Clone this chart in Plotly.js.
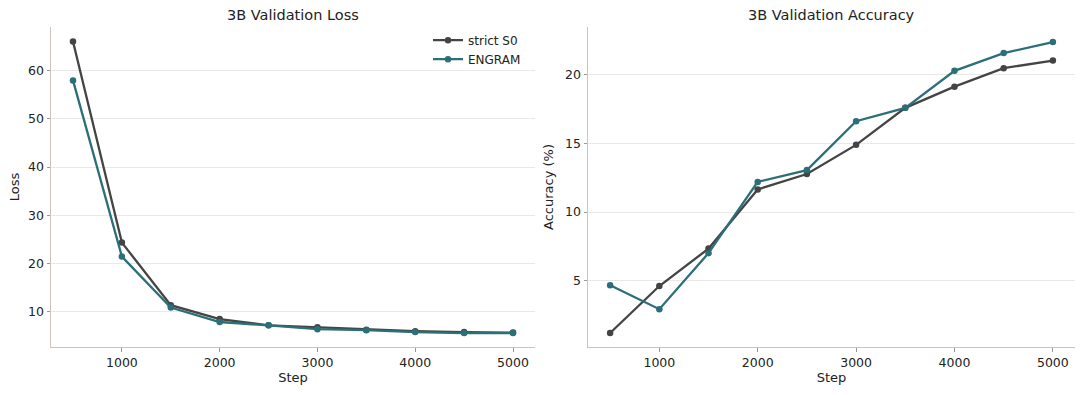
<!DOCTYPE html>
<html>
<head>
<meta charset="utf-8">
<script src="https://cdn.plot.ly/plotly-3.0.1.min.js"></script>
<style>html,body{margin:0;padding:0;background:#fff;}#chart{width:1080px;height:395px;}</style>
</head>
<body>
<div id="chart"></div>
<script>
const steps = [500, 1000, 1500, 2000, 2500, 3000, 3500, 4000, 4500, 5000];
const lossStrict = [66.1, 24.3, 11.3, 8.4, 7.1, 6.7, 6.2, 5.9, 5.7, 5.6];
const lossEngram = [58.0, 21.4, 10.8, 7.8, 7.1, 6.3, 6.1, 5.7, 5.5, 5.5];
const accStrict = [1.17, 4.6, 7.33, 11.65, 12.77, 14.9, 17.6, 19.15, 20.5, 21.05];
const accEngram = [4.66, 2.91, 7.0, 12.2, 13.06, 16.63, 17.6, 20.3, 21.6, 22.4];
const seriesNames = ["strict S0", "ENGRAM"];
const colors = ["#444444", "#2b6f79"];

const font = "DejaVu Sans, sans-serif";
function tr(y, name, color, xa, ya, show) {
  return {x: steps, y: y, name: name, type: "scatter", mode: "lines+markers",
    line: {color: color, width: 2.3}, marker: {color: color, size: 6.5},
    xaxis: xa, yaxis: ya, showlegend: show};
}
const data = [
  tr(lossStrict, seriesNames[0], colors[0], "x", "y", true),
  tr(lossEngram, seriesNames[1], colors[1], "x", "y", true),
  tr(accStrict, seriesNames[0], colors[0], "x2", "y2", false),
  tr(accEngram, seriesNames[1], colors[1], "x2", "y2", false)
];
const xbase = {range: [275, 5225], tickvals: [1000, 2000, 3000, 4000, 5000],
  showline: true, linecolor: "#cbc4bc", linewidth: 1, mirror: false,
  showgrid: false, zeroline: false, ticks: "outside", ticklen: 3.5, tickcolor: "#999",
  tickfont: {family: font, size: 12.5, color: "#222"},
  title: {text: "Step", font: {family: font, size: 13, color: "#222"}, standoff: 4}};
const ybase = {showline: true, linecolor: "#cbc4bc", linewidth: 1, mirror: false,
  showgrid: true, gridcolor: "#ebe8e5", gridwidth: 1, zeroline: false,
  ticks: "outside", ticklen: 3.5, tickcolor: "#999",
  tickfont: {family: font, size: 12.5, color: "#222"}, domain: [0.1215, 0.9316]};
const layout = {
  width: 1080, height: 395, margin: {l: 0, r: 0, t: 0, b: 0},
  paper_bgcolor: "#fff", plot_bgcolor: "#fff",
  xaxis: Object.assign({}, xbase, {domain: [51/1080, 535/1080], anchor: "y"}),
  xaxis2: Object.assign({}, xbase, {domain: [588/1080, 1075/1080], anchor: "y2"}),
  yaxis: Object.assign({}, ybase, {range: [2.6, 69.1], tickvals: [10, 20, 30, 40, 50, 60], anchor: "x",
    title: {text: "Loss", font: {family: font, size: 13, color: "#222"}, standoff: 5}}),
  yaxis2: Object.assign({}, ybase, {range: [0.15, 23.5], tickvals: [5, 10, 15, 20], anchor: "x2",
    title: {text: "Accuracy (%)", font: {family: font, size: 13, color: "#222"}, standoff: 8}}),
  legend: {x: 428/1080, xanchor: "left", y: 0.935, yanchor: "top", bgcolor: "rgba(255,255,255,0)",
    font: {family: font, size: 12, color: "#222"}, itemwidth: 30, tracegroupgap: 0},
  annotations: [
    {text: "3B Validation Loss", xref: "paper", yref: "paper", x: 293/1080, y: 1 - 15/395,
     xanchor: "center", yanchor: "middle", showarrow: false, font: {family: font, size: 14.5, color: "#222"}},
    {text: "3B Validation Accuracy", xref: "paper", yref: "paper", x: 831/1080, y: 1 - 15/395,
     xanchor: "center", yanchor: "middle", showarrow: false, font: {family: font, size: 14.5, color: "#222"}}
  ],
  showlegend: true
};
Plotly.newPlot("chart", data, layout, {displayModeBar: false, staticPlot: true});
</script>
</body>
</html>
